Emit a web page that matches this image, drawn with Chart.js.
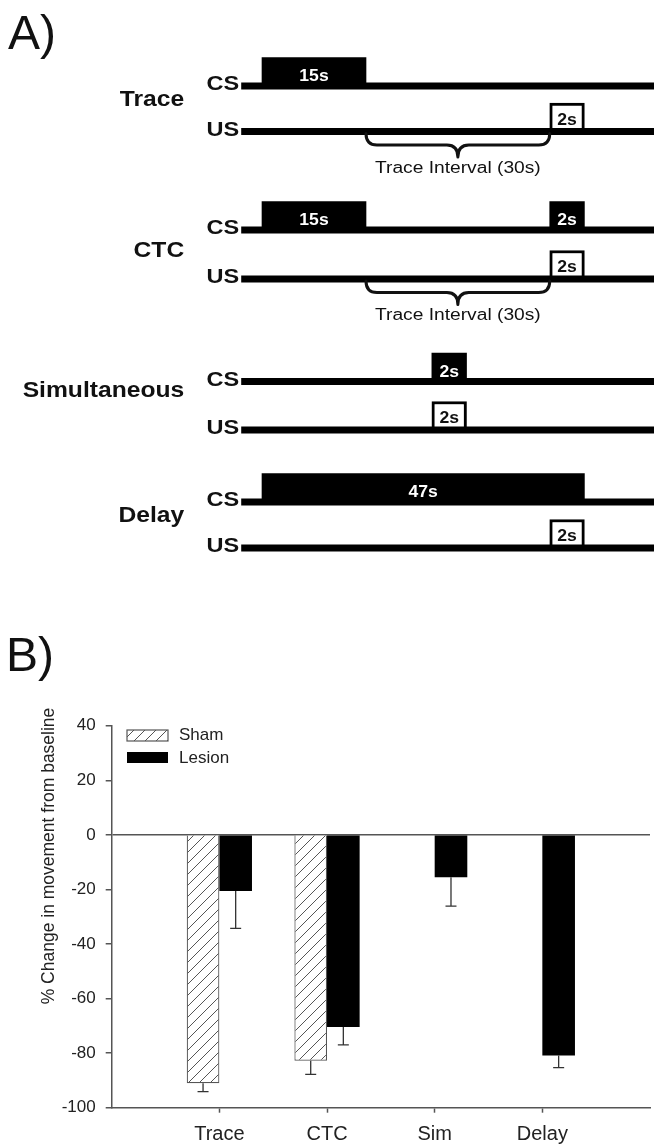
<!DOCTYPE html>
<html>
<head>
<meta charset="utf-8">
<script src="https://cdn.jsdelivr.net/npm/chart.js@4.4.1/dist/chart.umd.min.js"></script>
<style>
  html, body { margin: 0; padding: 0; background: #fff; overflow: hidden; width: 654px; height: 1145px; }
  #wrap { position: relative; width: 660px; height: 1145px; }
  #cA { position: absolute; left: 0; top: 0; }
  #cB { position: absolute; left: 0; top: 600px; }
  .panel { position: absolute; font-family: "Liberation Sans", Arial, Helvetica, sans-serif; font-size: 48px; line-height: 48px; color: #111; }
</style>
</head>
<body>
<div id="wrap">
  <canvas id="cA" width="660" height="600"></canvas>
  <canvas id="cB" width="660" height="545"></canvas>
  <div class="panel" style="left:8px; top:9px;">A)</div>
  <div class="panel" style="left:6px; top:631px;">B)</div>
</div>
<script>
// ---------------- Panel A: protocol schematic (schematic time units) ----------------
const protocols = ['Trace', 'CTC', 'Simultaneous', 'Delay'];
const timelineEnd = 60;
const csRow = [0, 1, 1, 2, 3];
const csOn = [3, 3, 44.5, 27.5, 3];
const csOff = [18, 18, 49.5, 32.5, 49.5];
const csText = ['15s', '15s', '2s', '2s', '47s'];
const usRow = [0, 1, 2, 3];
const usOn = [44.5, 44.5, 27.5, 44.5];
const usOff = [49.5, 49.5, 32.5, 49.5];
const usText = ['2s', '2s', '2s', '2s'];
const intervalRow = [0, 1];
const intervalOn = [18, 18];
const intervalOff = [44.5, 44.5];
const intervalText = ['Trace Interval (30s)', 'Trace Interval (30s)'];

// ---------------- Panel B: bar chart data ----------------
const categories = ['Trace', 'CTC', 'Sim', 'Delay'];
const shamValues = [-91.0, -82.8, null, null];
const shamErr = [3.1, 5.0, null, null];
const lesionValues = [-20.6, -70.4, -15.5, -80.9];
const lesionErr = [13.7, 6.6, 10.6, 4.4];
const yTicks = [40, 20, 0, -20, -40, -60, -80, -100];
const yTitle = '% Change in movement from baseline';

// ---------------- helpers ----------------
const FONT = '"Liberation Sans", Arial, Helvetica, sans-serif';
function drawText(ctx, text, x, y, o) {
  ctx.save();
  ctx.font = o.font;
  ctx.fillStyle = o.color || '#111';
  ctx.textBaseline = o.baseline || 'alphabetic';
  ctx.textAlign = o.align || 'center';
  ctx.translate(x, y);
  if (o.rot) ctx.rotate(o.rot);
  ctx.scale(o.sx || 1, 1);
  ctx.fillText(text, 0, 0);
  ctx.restore();
}

// layout of schematic rows (canvas pixel rows on a 0..600 layout axis)
const LA = {
  csY: [86, 230, 381.5, 502],
  usY: [131.5, 279, 430, 548],
  protoBase: [106, 256.5, 397, 521.5],
  pulseH: 28.5,
  lineW: 6.5
};

const baseData = [];
protocols.forEach((p, i) => {
  baseData.push({ x: [0, timelineEnd], y: LA.csY[i] });
  baseData.push({ x: [0, timelineEnd], y: LA.usY[i] });
});
const csData = csRow.map((r, i) => ({ x: [csOn[i], csOff[i]], y: LA.csY[r] - LA.pulseH / 2 }));
const usData = usRow.map((r, i) => ({ x: [usOn[i], usOff[i]], y: LA.usY[r] - LA.pulseH / 2 }));

const schematicText = {
  id: 'schematicText',
  afterDatasetsDraw(chart) {
    const ctx = chart.ctx;
    const xs = chart.scales.x;
    const x0 = xs.getPixelForValue(0);
    [1, 2].forEach(di => {
      const ds = chart.data.datasets[di];
      chart.getDatasetMeta(di).data.forEach((el, i) => {
        const p = el.getProps(['x', 'base', 'y'], true);
        drawText(ctx, ds.texts[i], (p.x + p.base) / 2, p.y + LA.pulseH / 2 + ds.textDy,
          { font: 'bold 16px ' + FONT, color: ds.textColor, sx: 1.1 });
      });
    });
    protocols.forEach((p, i) => {
      drawText(ctx, 'CS', x0 - 2, LA.csY[i] + 4, { font: 'bold 21px ' + FONT, align: 'right', sx: 1.12 });
      drawText(ctx, 'US', x0 - 2, LA.usY[i] + 4, { font: 'bold 21px ' + FONT, align: 'right', sx: 1.12 });
      drawText(ctx, p, x0 - 57, LA.protoBase[i], { font: 'bold 22px ' + FONT, align: 'right', sx: 1.12 });
    });
    intervalRow.forEach((r, i) => {
      const xa = xs.getPixelForValue(intervalOn[i]);
      const xb = xs.getPixelForValue(intervalOff[i]);
      const xm = (xa + xb) / 2;
      const yl = LA.usY[r];
      const yTop = yl + 2, yH = yl + 13.5, yTip = yl + 25.5, rr = 11;
      ctx.save();
      ctx.strokeStyle = '#111';
      ctx.lineWidth = 3;
      ctx.lineCap = 'round';
      ctx.lineJoin = 'round';
      ctx.beginPath();
      ctx.moveTo(xa, yTop);
      ctx.quadraticCurveTo(xa, yH, xa + rr, yH);
      ctx.lineTo(xm - rr, yH);
      ctx.quadraticCurveTo(xm, yH, xm, yTip);
      ctx.quadraticCurveTo(xm, yH, xm + rr, yH);
      ctx.lineTo(xb - rr, yH);
      ctx.quadraticCurveTo(xb, yH, xb, yTop);
      ctx.stroke();
      ctx.restore();
      drawText(ctx, intervalText[i], xm, yl + 41, { font: '16px ' + FONT, sx: 1.2 });
    });
  }
};

new Chart(document.getElementById('cA'), {
  type: 'bar',
  data: {
    datasets: [
      { label: 'line', data: baseData, backgroundColor: '#000', borderWidth: 0, barThickness: LA.lineW, grouped: false },
      { label: 'CS', data: csData, backgroundColor: '#000', borderWidth: 0, barThickness: LA.pulseH, grouped: false,
        texts: csText, textColor: '#fff', textDy: -5 },
      { label: 'US', data: usData, backgroundColor: '#fff', borderColor: '#000', borderWidth: 3, borderSkipped: false,
        barThickness: LA.pulseH, grouped: false, texts: usText, textColor: '#111', textDy: -7 }
    ]
  },
  options: {
    indexAxis: 'y',
    responsive: false,
    animation: false,
    layout: { padding: { left: 241.2, right: 2.8, top: 0, bottom: 0 } },
    plugins: { legend: { display: false }, tooltip: { enabled: false } },
    scales: {
      x: { type: 'linear', min: 0, max: timelineEnd, display: false, offset: false },
      y: { type: 'linear', min: 0, max: 600, reverse: true, display: false, offset: false }
    }
  },
  plugins: [schematicText]
});

// ---------------- Panel B ----------------
function makeHatch() {
  const s = 11;
  const c = document.createElement('canvas');
  c.width = s; c.height = s;
  const g = c.getContext('2d');
  g.fillStyle = '#fff';
  g.fillRect(0, 0, s, s);
  g.strokeStyle = '#555';
  g.lineWidth = 1;
  g.beginPath();
  g.moveTo(-1, s + 1); g.lineTo(s + 1, -1);
  g.moveTo(-1, 1); g.lineTo(1, -1);
  g.moveTo(s - 1, s + 1); g.lineTo(s + 1, s - 1);
  g.stroke();
  return g.createPattern(c, 'repeat');
}
const cBctx = document.getElementById('cB').getContext('2d');
const hatch = makeHatch();

const labelsB = ['', ...categories, ''];
const padArr = a => [null, ...a, null];

const errorBars = {
  id: 'errorBars',
  afterDatasetsDraw(chart) {
    const ctx = chart.ctx;
    const ys = chart.scales.y;
    chart.data.datasets.forEach((ds, di) => {
      chart.getDatasetMeta(di).data.forEach((bar, i) => {
        const v = ds.data[i], e = ds.err[i];
        if (v == null || e == null) return;
        const x = bar.x;
        const y0 = ys.getPixelForValue(v);
        const y1 = ys.getPixelForValue(v - e);
        ctx.save();
        ctx.strokeStyle = '#333';
        ctx.lineWidth = 1.3;
        ctx.beginPath();
        ctx.moveTo(x, y0); ctx.lineTo(x, y1);
        ctx.moveTo(x - 5.5, y1); ctx.lineTo(x + 5.5, y1);
        ctx.stroke();
        ctx.restore();
      });
    });
  }
};

const legendB = {
  id: 'legendB',
  afterDraw(chart) {
    const ctx = chart.ctx;
    const { left, top } = chart.chartArea;
    const ds = chart.data.datasets;
    ctx.save();
    ctx.fillStyle = ds[0].backgroundColor;
    ctx.fillRect(left + 15.3, top + 4.3, 41, 11);
    ctx.strokeStyle = ds[0].borderColor;
    ctx.lineWidth = 1.2;
    ctx.strokeRect(left + 15.3, top + 4.3, 41, 11);
    ctx.fillStyle = ds[1].backgroundColor;
    ctx.fillRect(left + 15.3, top + 26.3, 41, 11);
    ctx.restore();
    drawText(ctx, ds[0].label, left + 67.3, top + 10, { font: '17px ' + FONT, align: 'left', baseline: 'middle', color: '#222' });
    drawText(ctx, ds[1].label, left + 67.3, top + 32.5, { font: '17px ' + FONT, align: 'left', baseline: 'middle', color: '#222' });
  }
};

const yTitlePlugin = {
  id: 'yTitlePlugin',
  afterDraw(chart) {
    const { left, top } = chart.chartArea;
    drawText(chart.ctx, yTitle, left - 62.7, top + 130.3,
      { font: '17.5px ' + FONT, rot: -Math.PI / 2, baseline: 'middle', color: '#222' });
  }
};

new Chart(cBctx, {
  type: 'bar',
  data: {
    labels: labelsB,
    datasets: [
      { label: 'Sham', data: padArr(shamValues), err: padArr(shamErr), backgroundColor: hatch,
        borderColor: '#555', borderWidth: 1.2, borderSkipped: 'start',
        categoryPercentage: 0.606, barPercentage: 1 },
      { label: 'Lesion', data: padArr(lesionValues), err: padArr(lesionErr), backgroundColor: '#000',
        borderWidth: 0, categoryPercentage: 0.606, barPercentage: 1 }
    ]
  },
  options: {
    responsive: false,
    animation: false,
    layout: { padding: { top: 125.7, right: 3.3, left: 0, bottom: 0 } },
    plugins: { legend: { display: false }, tooltip: { enabled: false } },
    scales: {
      x: {
        type: 'category',
        offset: false,
        grid: {
          offset: false,
          drawOnChartArea: false, drawTicks: true, tickLength: 5, tickWidth: 1.5,
          tickColor: c => (c.index === 0 || c.index === labelsB.length - 1) ? 'rgba(0,0,0,0)' : '#555'
        },
        border: { color: '#555', width: 1.5 },
        ticks: { padding: 10, color: '#222', font: { family: FONT, size: 20 }, maxRotation: 0, autoSkip: false },
        afterFit: s => { s.height = 37.3; }
      },
      y: {
        min: -100, max: 40,
        afterBuildTicks: s => { s.ticks = yTicks.map(v => ({ value: v })); },
        grid: {
          color: c => (c.tick && c.tick.value === 0) ? '#555' : 'rgba(0,0,0,0)',
          lineWidth: 1.5, drawTicks: true, tickLength: 6, tickColor: '#555', tickWidth: 1.5
        },
        border: { color: '#555', width: 1.5 },
        ticks: { padding: 10, color: '#222', font: { family: FONT, size: 17 } },
        afterFit: s => { s.width = 111.7; }
      }
    }
  },
  plugins: [errorBars, legendB, yTitlePlugin]
});
</script>
</body>
</html>
